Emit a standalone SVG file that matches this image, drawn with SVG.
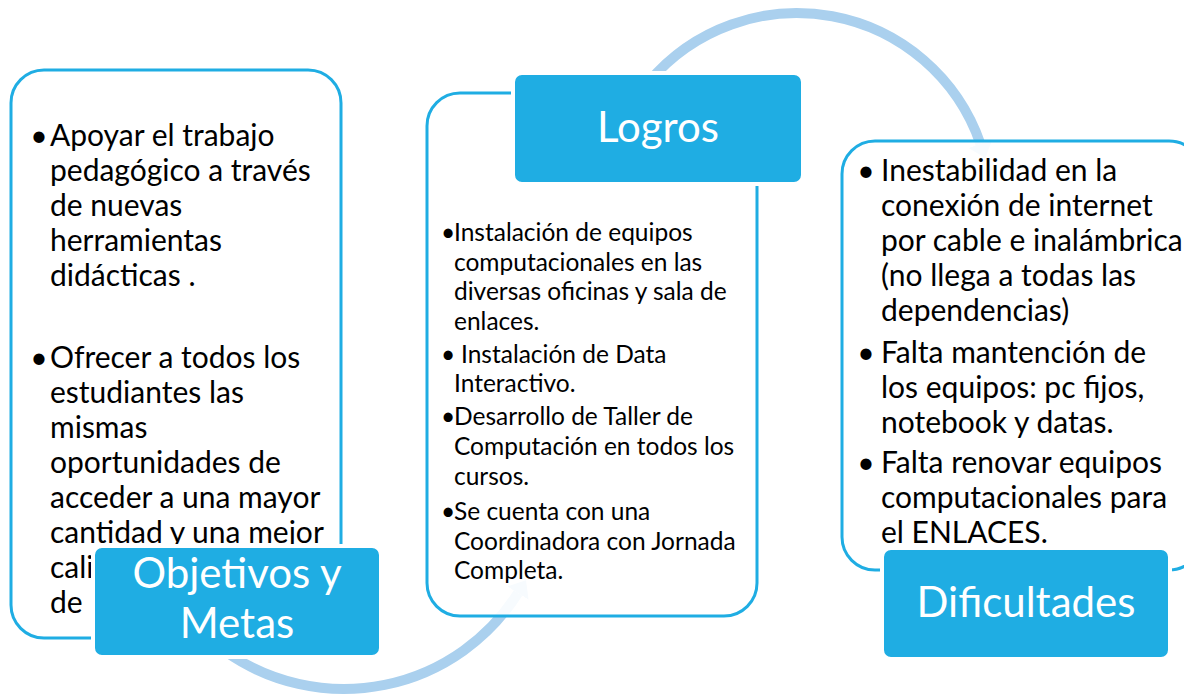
<svg xmlns="http://www.w3.org/2000/svg" width="1184" height="699" viewBox="0 0 1184 699">
<style>
.box{fill:#ffffff;fill-opacity:0.9;stroke:#1FADE3;stroke-width:3}
.lbl{fill:#1FADE3;stroke:#ffffff;stroke-width:4}
.lt{font-family:Lato,"Liberation Sans",sans-serif;font-size:42px;fill:#ffffff;text-anchor:middle}
.bt{font-family:Lato,"Liberation Sans",sans-serif;font-size:30px;fill:#000000}
.mt{font-family:Lato,"Liberation Sans",sans-serif;font-size:24.5px;fill:#000000}
.bul{text-anchor:middle}
.arc{fill:none;stroke:#AAD0EE;stroke-width:10}
</style>
<defs>
<marker id="ah" viewBox="0 0 6 10" refX="0" refY="5" markerWidth="1.5" markerHeight="2.5" markerUnits="strokeWidth" orient="auto">
<path d="M0,0 L6,5 L0,10 z" fill="#AAD0EE"/>
</marker>
</defs>
<rect width="1184" height="699" fill="#ffffff"/>
<g id="connectors">
<path class="arc" d="M648.4,82.3 A194,194 0 0 1 980.4,143.8" marker-end="url(#ah)"/>
<path class="arc" d="M226,652 A206,206 0 0 0 518,593" marker-end="url(#ah)"/>
</g>
<g id="objetivos">
<rect class="box" x="11" y="70" width="330" height="568" rx="33"/>
<g class="bt">
<text class="bul" x="39" y="146">•</text>
<text x="50" y="146">Apoyar el trabajo</text>
<text x="50" y="181">pedagógico a través</text>
<text x="50" y="216">de nuevas</text>
<text x="50" y="251">herramientas</text>
<text x="50" y="286">didácticas .</text>
<text class="bul" x="39" y="368">•</text>
<text x="50" y="368">Ofrecer a todos los</text>
<text x="50" y="403">estudiantes las</text>
<text x="50" y="438">mismas</text>
<text x="50" y="473">oportunidades de</text>
<text x="50" y="508">acceder a una mayor</text>
<text x="50" y="543">cantidad y una mejor</text>
<text x="50" y="578">cali</text>
<text x="50" y="613">de</text>
</g>
</g>
<g id="objetivos-label">
<rect class="lbl" x="93" y="546" width="288" height="111" rx="9"/>
<text class="lt" x="237" y="588">Objetivos y</text>
<text class="lt" x="237" y="638">Metas</text>
</g>
<g id="logros">
<rect class="box" x="427" y="93" width="330" height="523" rx="33"/>
<g class="mt">
<text class="bul" x="448" y="241">•</text>
<text x="454" y="241">Instalación de equipos</text>
<text x="454" y="271">computacionales en las</text>
<text x="454" y="300">diversas oficinas y sala de</text>
<text x="454" y="330">enlaces.</text>
<text class="bul" x="448" y="363">•</text>
<text x="461" y="363">Instalación de Data</text>
<text x="454" y="392">Interactivo.</text>
<text class="bul" x="448" y="425">•</text>
<text x="454" y="425">Desarrollo de Taller de</text>
<text x="454" y="455">Computación en todos los</text>
<text x="454" y="485">cursos.</text>
<text class="bul" x="448" y="520">•</text>
<text x="454" y="520">Se cuenta con una</text>
<text x="454" y="550">Coordinadora con Jornada</text>
<text x="454" y="579">Completa.</text>
</g>
</g>
<g id="logros-label">
<rect class="lbl" x="513" y="73" width="290" height="111" rx="9"/>
<text class="lt" x="658" y="142">Logros</text>
</g>
<g id="dificultades">
<rect class="box" x="842" y="141" width="360" height="429" rx="33"/>
<g class="bt">
<text class="bul" x="866" y="181">•</text>
<text x="881" y="181">Inestabilidad en la</text>
<text x="881" y="216">conexión de internet</text>
<text x="881" y="251">por cable e inalámbrica</text>
<text x="881" y="286">(no llega a todas las</text>
<text x="881" y="321">dependencias)</text>
<text class="bul" x="866" y="363">•</text>
<text x="881" y="363">Falta mantención de</text>
<text x="881" y="398">los equipos: pc fijos,</text>
<text x="881" y="433">notebook y datas.</text>
<text class="bul" x="866" y="473">•</text>
<text x="881" y="473">Falta renovar equipos</text>
<text x="881" y="508">computacionales para</text>
<text x="881" y="543">el ENLACES.</text>
</g>
</g>
<g id="dificultades-label">
<rect class="lbl" x="882" y="548" width="288" height="111" rx="9"/>
<text class="lt" x="1026" y="617">Dificultades</text>
</g>
</svg>
